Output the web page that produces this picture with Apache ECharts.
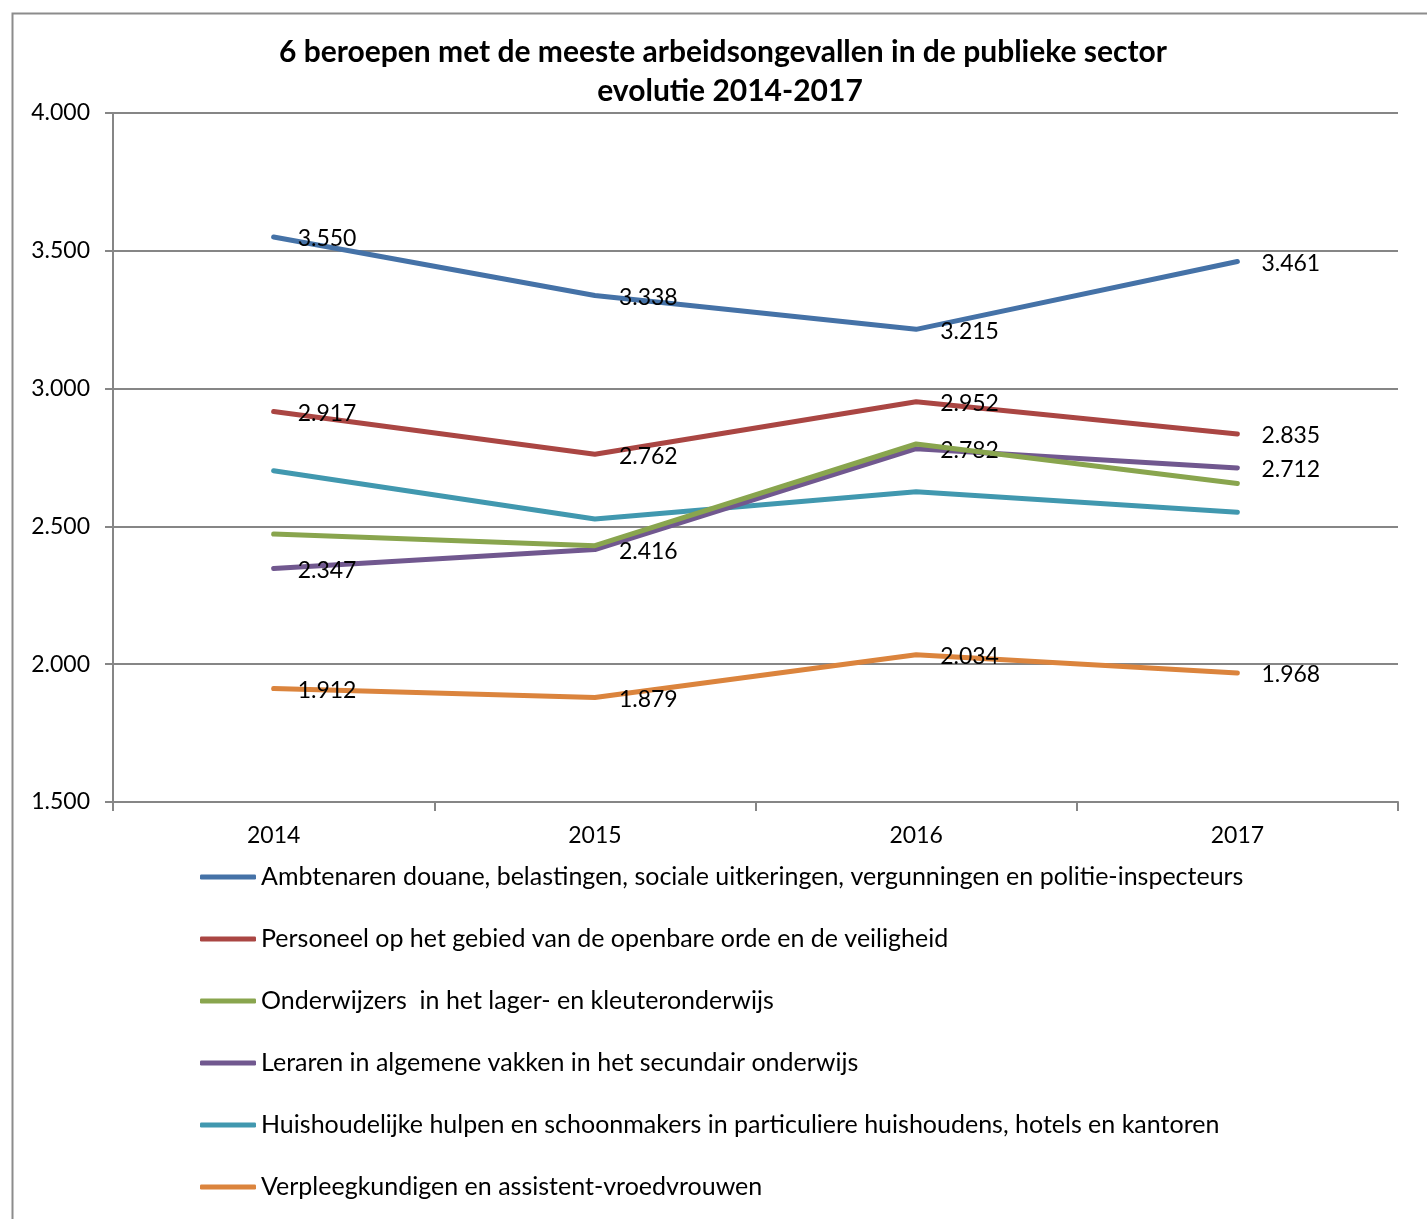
<!DOCTYPE html>
<html>
<head>
<meta charset="utf-8">
<script src="https://cdn.jsdelivr.net/npm/echarts@6/dist/echarts.min.js"></script>
<style>
html,body{margin:0;padding:0;background:#fff;}
#c{width:1427px;height:1219px;}
</style>
</head>
<body>
<div id="c"></div>
<script>
const years = ['2014', '2015', '2016', '2017'];
const seriesNames = [
  'Ambtenaren douane, belastingen, sociale uitkeringen, vergunningen en politie-inspecteurs',
  'Personeel op het gebied van de openbare orde en de veiligheid',
  'Onderwijzers  in het lager- en kleuteronderwijs',
  'Leraren in algemene vakken in het secundair onderwijs',
  'Huishoudelijke hulpen en schoonmakers in particuliere huishoudens, hotels en kantoren',
  'Verpleegkundigen en assistent-vroedvrouwen'
];
const ambtenaren = [3550, 3338, 3215, 3461];
const personeel = [2917, 2762, 2952, 2835];
const onderwijzers = [2472, 2430, 2799, 2656];
const leraren = [2347, 2416, 2782, 2712];
const huishoudelijke = [2702, 2527, 2626, 2551];
const verpleegkundigen = [1912, 1879, 2034, 1968];
const showLabels = [true, true, false, true, false, true];
const yTicks = [1500, 2000, 2500, 3000, 3500, 4000];

const colors = ['#4572A7', '#AA4643', '#89A54E', '#71588F', '#4198AF', '#DB843D'];
const FONT = 'Lato';
const allData = [ambtenaren, personeel, onderwijzers, leraren, huishoudelijke, verpleegkundigen];

function nl(v) { return String(v).replace(/\B(?=(\d{3})+(?!\d))/g, '.'); }

const chart = echarts.init(document.getElementById('c'), null, {renderer: 'canvas'});
chart.setOption({
  animation: false,
  color: colors,
  textStyle: {fontFamily: FONT},
  graphic: [
    {type: 'rect', left: 10, top: 11, shape: {width: 1500, height: 1300},
     style: {fill: 'none', stroke: '#8c8c8c', lineWidth: 2}, silent: true},
    {type: 'text', x: 723, y: 52, style: {text: '6 beroepen met de meeste arbeidsongevallen in de publieke sector',
      font: 'bold 30px ' + FONT, fill: '#000', textAlign: 'center', textVerticalAlign: 'middle'}},
    {type: 'text', x: 730, y: 91, style: {text: 'evolutie 2014-2017',
      font: 'bold 30px ' + FONT, fill: '#000', textAlign: 'center', textVerticalAlign: 'middle'}}
  ],
  grid: {left: 113, right: 29, top: 113, bottom: 417, containLabel: false},
  legend: {
    orient: 'vertical', left: 200, top: 864, padding: 0,
    itemWidth: 56, itemHeight: 5, icon: 'roundRect', itemGap: 36,
    textStyle: {fontFamily: FONT, fontSize: 25, color: '#000', lineHeight: 26},
    data: seriesNames
  },
  xAxis: {
    type: 'category', data: years, boundaryGap: true,
    axisLine: {lineStyle: {color: '#868686', width: 2}},
    axisTick: {show: true, length: 9, lineStyle: {color: '#868686', width: 2}},
    axisLabel: {color: '#000', fontSize: 23, fontFamily: FONT, margin: 22}
  },
  yAxis: {
    type: 'value', min: yTicks[0], max: yTicks[yTicks.length - 1], interval: 500,
    axisLine: {show: true, lineStyle: {color: '#868686', width: 2}},
    axisTick: {show: true, length: 8, lineStyle: {color: '#868686', width: 2}},
    splitLine: {lineStyle: {color: '#868686', width: 2}},
    axisLabel: {color: '#000', fontSize: 23, fontFamily: FONT, margin: 23, formatter: nl}
  },
  series: allData.map((d, i) => ({
    name: seriesNames[i], type: 'line', data: d,
    symbol: 'circle', symbolSize: 2, showSymbol: true,
    lineStyle: {width: 5, color: colors[i], cap: 'round', join: 'round'},
    itemStyle: {color: colors[i]},
    z: 10 - i,
    label: {show: showLabels[i], position: 'right', distance: 23, offset: [0, 2],
      formatter: p => nl(p.value), color: '#000', fontSize: 23, fontFamily: FONT}
  }))
});
</script>
</body>
</html>
